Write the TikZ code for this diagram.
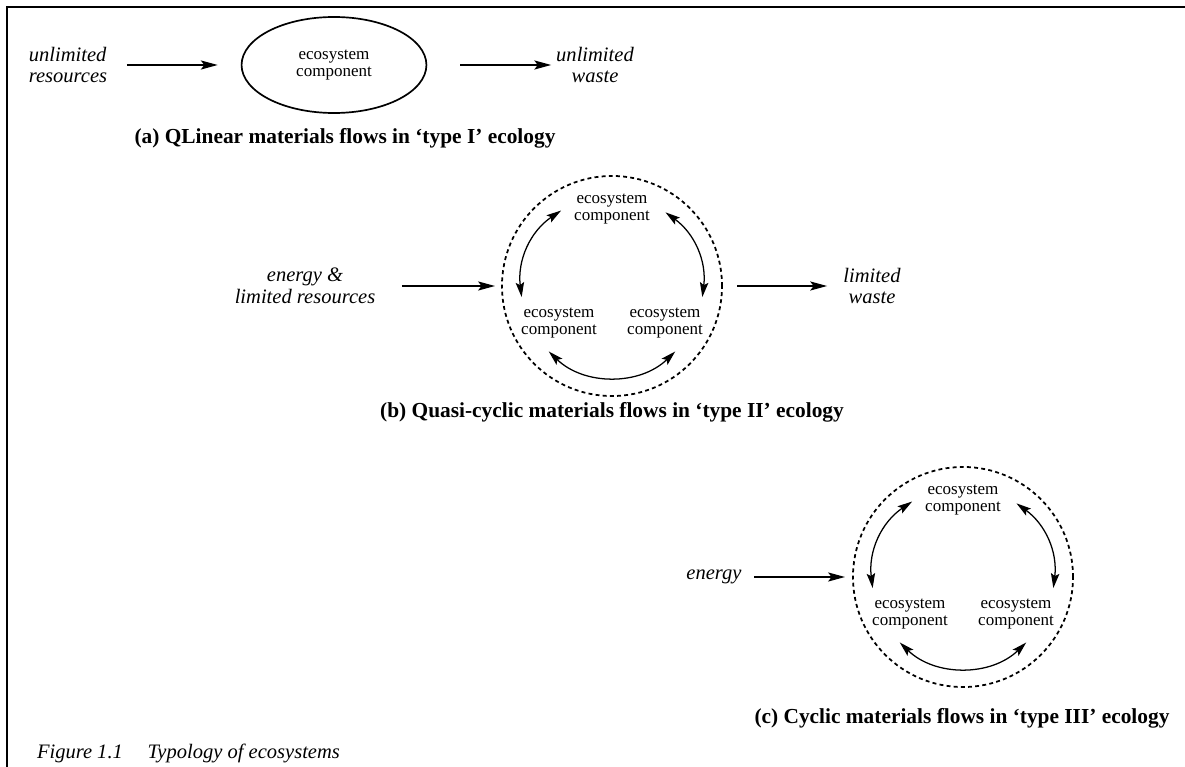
\documentclass[tikz,border=0pt]{standalone}
\usepackage{fontspec}
\setmainfont{Liberation Serif}
\usetikzlibrary{positioning}
\usetikzlibrary{shapes.geometric,calc,arrows.meta}

\newcommand{\PX}{0.025cm}
% (a) linear flow
\newcommand{\ACX}{334}
\newcommand{\ACY}{65}
% (b) quasi-cyclic flow
\newcommand{\BCX}{612}
\newcommand{\BCY}{286}
% (c) cyclic flow
\newcommand{\CCX}{963}
\newcommand{\CCY}{577}
% ring geometry
\newcommand{\RING}{5.5cm}
\newcommand{\CORE}{4.55cm}
\newcommand{\TOPDY}{77}
\newcommand{\SIDEDX}{53}
\newcommand{\SIDEDY}{37}

\begin{document}
\begin{tikzpicture}[x=\PX,y=-\PX,>={Stealth[length=10.5pt,width=6pt,inset=2pt]}]
\tikzstyle{every node}=[inner sep=0pt,outer sep=0pt]
\tikzstyle{flow}=[line width=0.9pt,-{Stealth[length=12pt,width=6.5pt,inset=2.5pt]}]
\tikzstyle{exchange}=[line width=0.9pt,<->]
\tikzstyle{inout}=[font=\fontsize{14.6}{15.5}\selectfont\itshape,align=center]
\tikzstyle{comp}=[font=\fontsize{12.1}{12.6}\selectfont,align=center]
\tikzstyle{heading}=[font=\fontsize{15.2}{16}\selectfont\bfseries]
\tikzstyle{ring}=[circle,draw,line width=1.25pt,dash pattern=on 2.8pt off 2.3pt,minimum size=\RING]
\tikzstyle{core}=[circle,minimum size=\CORE]
\useasboundingbox (0,0) rectangle (1185,767);

% Frame
	\draw[line width=1.6pt] (1185,7) -- (7,7) -- (7,767);

% (a) Linear
	\node[inout,align=left] (resA) at (68,{\ACY}) {unlimited\\resources};
	\node[ellipse,draw,line width=1.2pt,minimum width=4.62cm,minimum height=2.4cm,comp] (ecoA) at ({\ACX},{\ACY}) {ecosystem\\component};
	\node[inout] (wasteA) at (595,{\ACY}) {unlimited\\waste};
	\draw[flow,shorten <=14pt,shorten >=17pt] (resA) -- (ecoA);
	\draw[flow,shorten <=24pt,shorten >=3.6pt] (ecoA) -- (wasteA);
	\node[heading] (capA) at (345,138) {(a) QLinear materials flows in ‘type I’ ecology};

% (b) Quasi-cyclic
	\node[ring] (ringB) at ({\BCX},{\BCY}) {};
	\node[core] (coreB) at ({\BCX},{\BCY}) {};
	\node[comp] (topB) at ({\BCX},{\BCY-\TOPDY}) {ecosystem\\component};
	\node[comp] (leftB) at ({\BCX-\SIDEDX},{\BCY+\SIDEDY}) {ecosystem\\component};
	\node[comp] (rightB) at ({\BCX+\SIDEDX},{\BCY+\SIDEDY}) {ecosystem\\component};
	\draw[exchange] (coreB.124) to[out=214,in=97] (coreB.187);
	\draw[exchange] (coreB.54) to[out=-36,in=83] (coreB.-7);
	\draw[exchange] (coreB.226) to[out=-44,in=224] (coreB.314);
	\node[inout] (inB) at (305,{\BCY}) {energy \&\\limited resources};
	\node[inout] (outB) at (872,{\BCY}) {limited\\waste};
	\draw[flow,shorten <=19pt,shorten >=5pt] (inB) -- (ringB);
	\draw[flow,shorten <=10.7pt,shorten >=11.7pt] (ringB) -- (outB);
	\node[heading] (capB) at (612,412) {(b) Quasi-cyclic materials flows in ‘type II’ ecology};

% (c) Cyclic
	\node[ring] (ringC) at ({\CCX},{\CCY}) {};
	\node[core] (coreC) at ({\CCX},{\CCY}) {};
	\node[comp] (topC) at ({\CCX},{\CCY-\TOPDY}) {ecosystem\\component};
	\node[comp] (leftC) at ({\CCX-\SIDEDX},{\CCY+\SIDEDY}) {ecosystem\\component};
	\node[comp] (rightC) at ({\CCX+\SIDEDX},{\CCY+\SIDEDY}) {ecosystem\\component};
	\draw[exchange] (coreC.124) to[out=214,in=97] (coreC.187);
	\draw[exchange] (coreC.54) to[out=-36,in=83] (coreC.-7);
	\draw[exchange] (coreC.226) to[out=-44,in=224] (coreC.314);
	\node[inout] (inC) at (714,{\CCY}) {energy};
	\draw[flow,shorten <=9.2pt,shorten >=5.7pt] (inC) -- (ringC);
	\node[heading] (capC) at (962,718) {(c) Cyclic materials flows in ‘type III’ ecology};

% Figure caption
	\node[anchor=west,font=\fontsize{14.6}{16}\selectfont\itshape] (figcap) at (37,753) {Figure 1.1\hspace{1.2em}Typology of ecosystems};

\end{tikzpicture}
\end{document}
